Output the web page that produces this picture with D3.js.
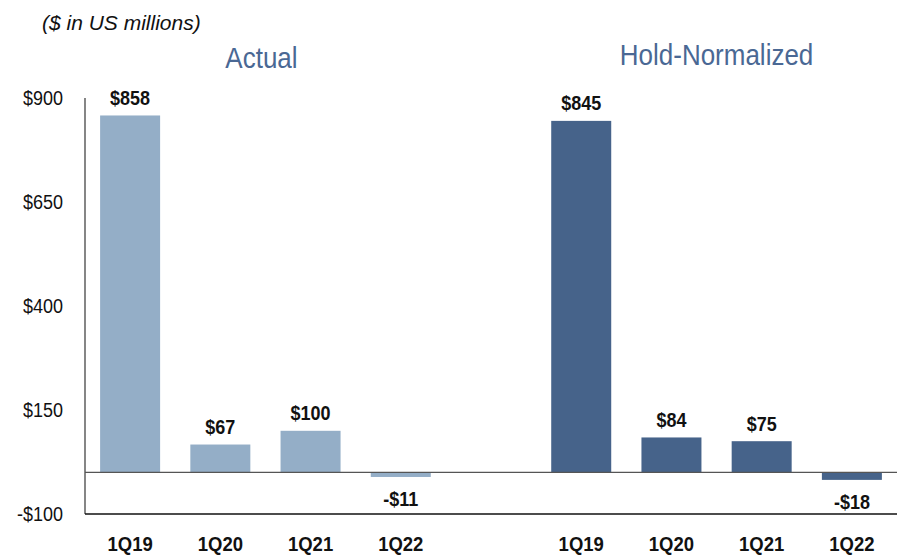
<!DOCTYPE html>
<html>
<head>
<meta charset="utf-8">
<script src="https://cdn.jsdelivr.net/npm/d3@7"></script>
<style>
  body { margin: 0; background: #fff; }
  text { font-family: "Liberation Sans", Arial, sans-serif; }
</style>
</head>
<body>
<svg id="chart" width="906" height="556"></svg>
<script>
const QUARTERS = ["1Q19", "1Q20", "1Q21", "1Q22"];
const ACTUAL = [858, 67, 100, -11];
const HOLD_NORMALIZED = [845, 84, 75, -18];
const GROUPS = ["Actual", "Hold-Normalized"];
const Y_TICKS = [-100, 150, 400, 650, 900];

const LEFT = 85;
const RIGHT = 897;
const TOP = 98;
const BOTTOM = 514;
const COLORS = { "Actual": "#94aec7", "Hold-Normalized": "#46638a" };
const TITLE_COLOR = "#4a6894";
const STRETCH = 1.1;

const svg = d3.select("#chart");

// one empty slot between the two groups
const series = [
    { group: GROUPS[0], values: ACTUAL },
    { group: GROUPS[1], values: HOLD_NORMALIZED }
];
const rows = [];
series.forEach((s, gi) => {
    s.values.forEach((v, i) => rows.push({ key: s.group + "|" + QUARTERS[i], group: s.group, quarter: QUARTERS[i], value: v }));
    if (gi === 0) rows.push({ key: "gap", value: null });
});

const x = d3.scaleBand()
    .domain(rows.map(d => d.key))
    .range([LEFT, RIGHT])
    .paddingInner(0.335)
    .paddingOuter(0.1675);

const y = d3.scaleLinear().domain([-100, 900]).range([BOTTOM, TOP]);

const fmt = v => (v < 0 ? "-$" : "$") + Math.abs(v);

// stretched text helper (source text is slightly tall)
function label(g, px, py, str, opts) {
    return g.append("text")
        .attr("transform", `translate(${px},${py}) scale(1,${opts.stretch || 1})`)
        .attr("text-anchor", opts.anchor || "middle")
        .attr("font-size", opts.size)
        .attr("font-weight", opts.weight || "normal")
        .attr("font-style", opts.style || "normal")
        .attr("fill", opts.fill || "#000")
        .text(str);
}

// subtitle
label(svg, 42, 30, "($ in US millions)", { anchor: "start", size: 21, style: "italic", fill: "#111" });

// y axis labels
const yAxis = svg.append("g");
Y_TICKS.forEach(t => {
    label(yAxis, 63, y(t) + 6.5, fmt(t), { anchor: "end", size: 18, fill: "#111", stretch: STRETCH });
});

// bars
const bars = rows.filter(d => d.value !== null);
svg.append("g").selectAll("rect")
    .data(bars)
    .join("rect")
    .attr("x", d => x(d.key))
    .attr("width", x.bandwidth())
    .attr("y", d => y(Math.max(0, d.value)))
    .attr("height", d => Math.abs(y(d.value) - y(0)))
    .attr("fill", d => COLORS[d.group]);

// axis lines
svg.append("line").attr("x1", LEFT).attr("x2", LEFT).attr("y1", TOP).attr("y2", BOTTOM)
    .attr("stroke", "#444").attr("stroke-width", 1.3);
svg.append("line").attr("x1", LEFT).attr("x2", RIGHT).attr("y1", y(0)).attr("y2", y(0))
    .attr("stroke", "#555").attr("stroke-width", 1.3);
svg.append("line").attr("x1", LEFT).attr("x2", RIGHT).attr("y1", BOTTOM).attr("y2", BOTTOM)
    .attr("stroke", "#111").attr("stroke-width", 1.3);

// value labels
const vals = svg.append("g");
bars.forEach(d => {
    const cx = x(d.key) + x.bandwidth() / 2;
    const py = d.value >= 0 ? y(d.value) - 10.5 : y(d.value) + 29;
    label(vals, cx, py, fmt(d.value), { size: 18, weight: "bold", fill: "#111", stretch: STRETCH });
});

// category labels
const cats = svg.append("g");
bars.forEach(d => {
    label(cats, x(d.key) + x.bandwidth() / 2, 551, d.quarter, { size: 18.5, weight: "bold", fill: "#111", stretch: STRETCH });
});

// group titles
const titleY = { "Actual": 68, "Hold-Normalized": 65 };
GROUPS.forEach(gName => {
    const keys = rows.filter(r => r.group === gName).map(r => r.key);
    const cx = (x(keys[0]) + x(keys[keys.length - 1]) + x.bandwidth()) / 2;
    label(svg, cx - (gName === "Actual" ? 4 : 0), titleY[gName], gName, { size: 26, fill: TITLE_COLOR, stretch: 1.12 });
});
</script>
</body>
</html>
